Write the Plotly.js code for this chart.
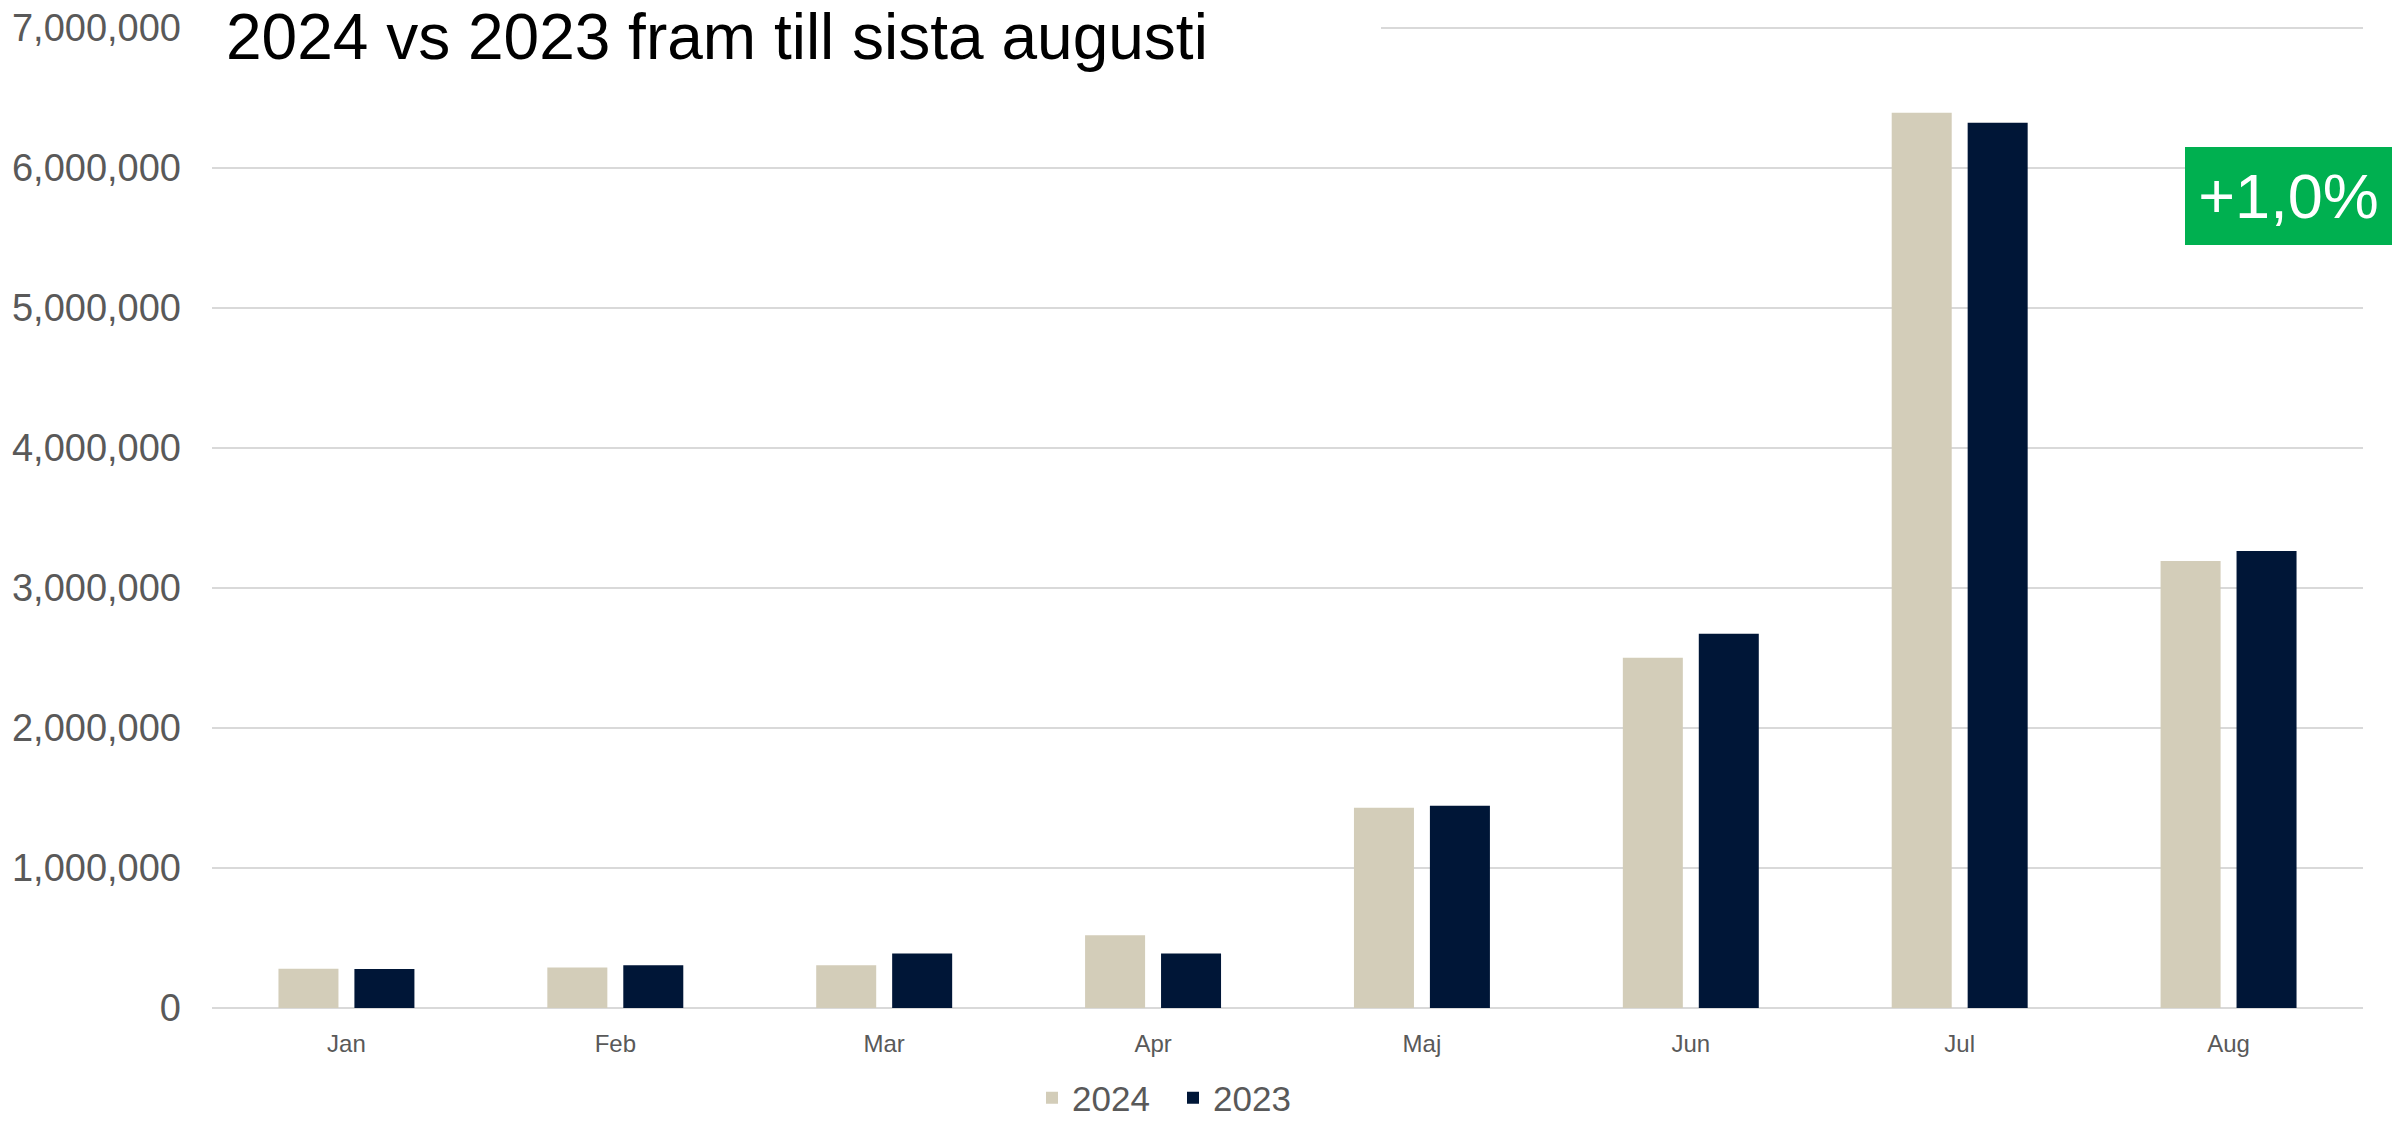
<!DOCTYPE html>
<html>
<head>
<meta charset="utf-8">
<script src="https://cdn.plot.ly/plotly-3.0.1.min.js"></script>
<style>
  html, body { margin: 0; padding: 0; background: #ffffff; }
  #chart { width: 2392px; height: 1121px; }
</style>
</head>
<body>
<div id="chart"></div>
<script>
const months = ["Jan", "Feb", "Mar", "Apr", "Maj", "Jun", "Jul", "Aug"];
const values2024 = [280000, 290000, 305000, 520000, 1431000, 2502000, 6394000, 3193000];
const values2023 = [278000, 305000, 390000, 390000, 1445000, 2674000, 6324000, 3264000];
const seriesNames = ["2024", "2023"];
const titleText = "2024 vs 2023 fram till sista augusti";
const badgeText = "+1,0%";

const colors = { s2024: "#D3CDB9", s2023: "#001637", grid: "#D9D9D9", text: "#595959", badge: "#00B050" };

const traces = [
  { type: "bar", name: seriesNames[0], x: months, y: values2024, marker: { color: colors.s2024 }, hoverinfo: "x+y+name" },
  { type: "bar", name: seriesNames[1], x: months, y: values2023, marker: { color: colors.s2023 }, hoverinfo: "x+y+name" }
];

const layout = {
  width: 2392,
  height: 1121,
  paper_bgcolor: "#ffffff",
  plot_bgcolor: "#ffffff",
  margin: { l: 212, r: 29, t: 28, b: 113, pad: 0 },
  barmode: "group",
  bargap: 0.435,
  bargroupgap: 0.21,
  title: {
    text: titleText,
    font: { family: "Liberation Sans", size: 64, color: "#000000" },
    xref: "container", yref: "container",
    x: 226 / 2392, xanchor: "left",
    y: 1 - 37 / 1121, yanchor: "middle"
  },
  xaxis: {
    type: "category",
    showgrid: false,
    showline: false,
    zeroline: false,
    ticks: "",
    ticklabelstandoff: 19,
    tickfont: { family: "Liberation Sans", size: 24, color: colors.text }
  },
  yaxis: {
    range: [0, 7000000],
    dtick: 1000000,
    tick0: 0,
    tickformat: ",d",
    showgrid: true,
    gridcolor: colors.grid,
    gridwidth: 2,
    zeroline: true,
    zerolinecolor: colors.grid,
    zerolinewidth: 2,
    showline: false,
    ticks: "",
    ticklabelstandoff: 30,
    tickfont: { family: "Liberation Sans", size: 38, color: colors.text }
  },
  showlegend: true,
  legend: {
    orientation: "h",
    xref: "container", yref: "container",
    x: 1032 / 2392, xanchor: "left",
    y: 1 - 1098 / 1121, yanchor: "middle",
    entrywidth: 96,
    entrywidthmode: "pixels",
    font: { family: "Liberation Sans", size: 35, color: colors.text },
    bgcolor: "rgba(0,0,0,0)",
    itemclick: false
  },
  shapes: [
    { type: "line", xref: "paper", yref: "paper", x0: (1381 - 212) / 2151, x1: 1, y0: 1, y1: 1,
      line: { color: colors.grid, width: 2 }, layer: "below" }
  ],
  annotations: [
    { text: badgeText, xref: "paper", yref: "paper", x: (2392 - 212) / 2151, xanchor: "right",
      y: (1008 - 147) / 980, yanchor: "top", showarrow: false,
      width: 207, height: 98, bgcolor: colors.badge, borderpad: 0, borderwidth: 0,
      align: "center", valign: "middle",
      font: { family: "Liberation Sans", size: 63, color: "#ffffff" } }
  ]
};

Plotly.newPlot("chart", traces, layout, { displayModeBar: false, staticPlot: true });
</script>
</body>
</html>
